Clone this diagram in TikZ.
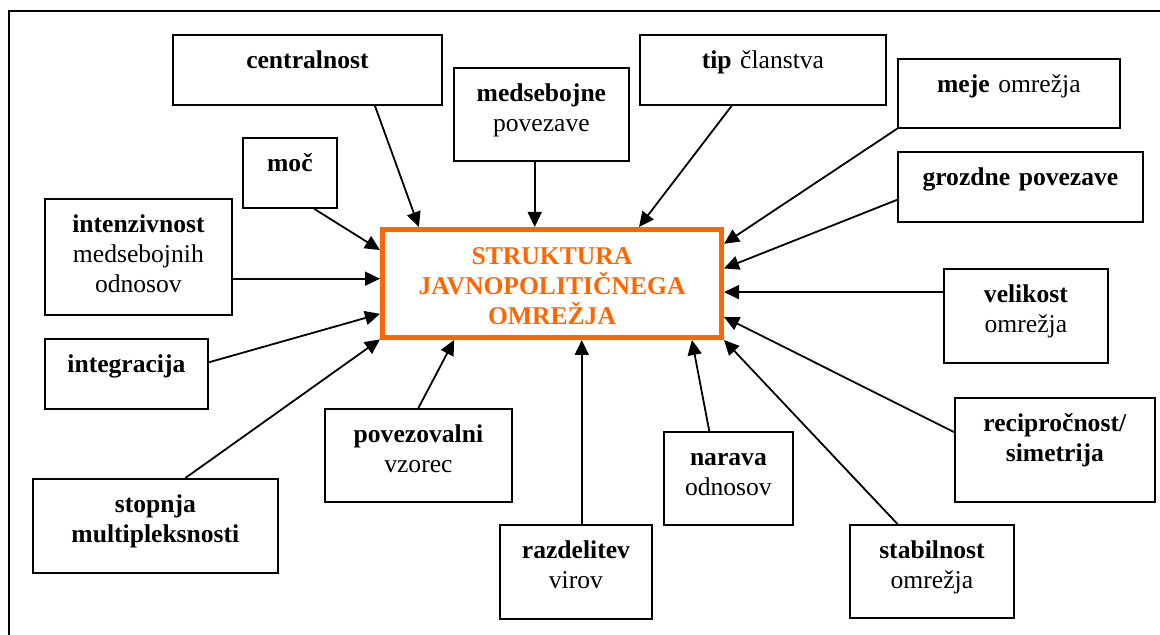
\documentclass[tikz,border=0pt]{standalone}
\usepackage{fontspec}
\setmainfont{Liberation Serif}
\usetikzlibrary{arrows.meta}
\definecolor{omrezjeorange}{RGB}{255,102,0}
\tikzset{
    faktor/.style 2 args={draw,rectangle,anchor=north west,inner sep=0pt,line width=0.9pt,
        align=center,text width=#1pt,text height=17pt,text depth=#2pt,
        font=\fontsize{12.8}{14.8}\selectfont},
    struktura/.style={draw=omrezjeorange,rectangle,anchor=north west,inner sep=0pt,line width=2.5pt,
        align=center,text width=169.5pt,text height=17.75pt,text depth=36.25pt,
        text=omrezjeorange,font=\fontsize{12.8}{14.8}\selectfont\bfseries},
    puscica/.style={-{Triangle[length=7.5pt,width=7pt]},line width=0.9pt},
}

\begin{document}
\begin{tikzpicture}[x=0.5pt,y=-0.5pt]
    \useasboundingbox (0,0) rectangle (1160,635);
    \draw[line width=1pt] (9,635) -- (9,11) -- (1160,11); % frame

    \node[struktura] (struktura) at (380,227) {STRUKTURA\\ JAVNOPOLITIČNEGA\\ OMREŽJA};

    % boxes, left side
    \node[faktor={134.5}{18}] (centralnost) at (172,34) {\textbf{centralnost}};
    \node[faktor={47}{18}] (moc) at (242,137) {\textbf{moč}};
    \node[faktor={93.5}{41}] (intenzivnost) at (44,198) {\textbf{intenzivnost}\\ medsebojnih\\ odnosov};
    \node[faktor={81.5}{18}] (integracija) at (44,338) {\textbf{integracija}};
    \node[faktor={122.5}{30}] (stopnja) at (32,478) {\textbf{stopnja}\\ \textbf{multipleksnosti}};
    \node[faktor={93.5}{29.5}] (povezovalni) at (324,408) {\textbf{povezovalni}\\ vzorec};

    % boxes, top and right side
    \node[faktor={87.5}{29.5}] (medsebojne) at (453,67) {\textbf{medsebojne}\\ povezave};
    \node[faktor={123}{18}] (tip) at (639,34) {\textbf{tip} članstva};
    \node[faktor={111}{17.5}] (meje) at (897,58) {\textbf{meje} omrežja};
    \node[faktor={122.5}{18}] (grozdne) at (897,151) {\textbf{grozdne povezave}};
    \node[faktor={82}{30}] (velikost) at (943,268) {\textbf{velikost}\\ omrežja};
    \node[faktor={100}{35}] (reciprocnost) at (954,397) {\textbf{recipročnost/}\\ \textbf{simetrija}};
    \node[faktor={82}{29.5}] (stabilnost) at (849,524) {\textbf{stabilnost}\\ omrežja};
    \node[faktor={64.5}{29.5}] (narava) at (663,431) {\textbf{narava}\\ odnosov};
    \node[faktor={76}{30}] (razdelitev) at (499,524) {\textbf{razdelitev}\\ virov};

    % arrows into the centre
    \draw[puscica] (centralnost.-28) -- (struktura.157);
    \draw[puscica] (moc.-56) -- (struktura.169);
    \draw[puscica] (intenzivnost.-13) -- (intenzivnost.-13 -| struktura.west);
    \draw[puscica] (integracija.8) -- (struktura.-170);
    \draw[puscica] (stopnja.58) -- (struktura.-162);
    \draw[puscica] (povezovalni.north) -- (struktura.-150);
    \draw[puscica] (medsebojne.-98) -- (medsebojne.-98 |- struktura.north);
    \draw[puscica] (tip.-131) -- (struktura.33);
    \draw[puscica] (meje.south west) -- (struktura.13);
    \draw[puscica] (grozdne.-174) -- (struktura.5);
    \draw[puscica] (velikost.164) -- (velikost.164 -| struktura.east);
    \draw[puscica] (reciprocnost.170) -- (struktura.-11);
    \draw[puscica] (stabilnost.126) -- (struktura.south east);
    \draw[puscica] (narava.112) -- (struktura.-22);
    \draw[puscica] (razdelitev.83) -- (razdelitev.83 |- struktura.south);
\end{tikzpicture}
\end{document}
